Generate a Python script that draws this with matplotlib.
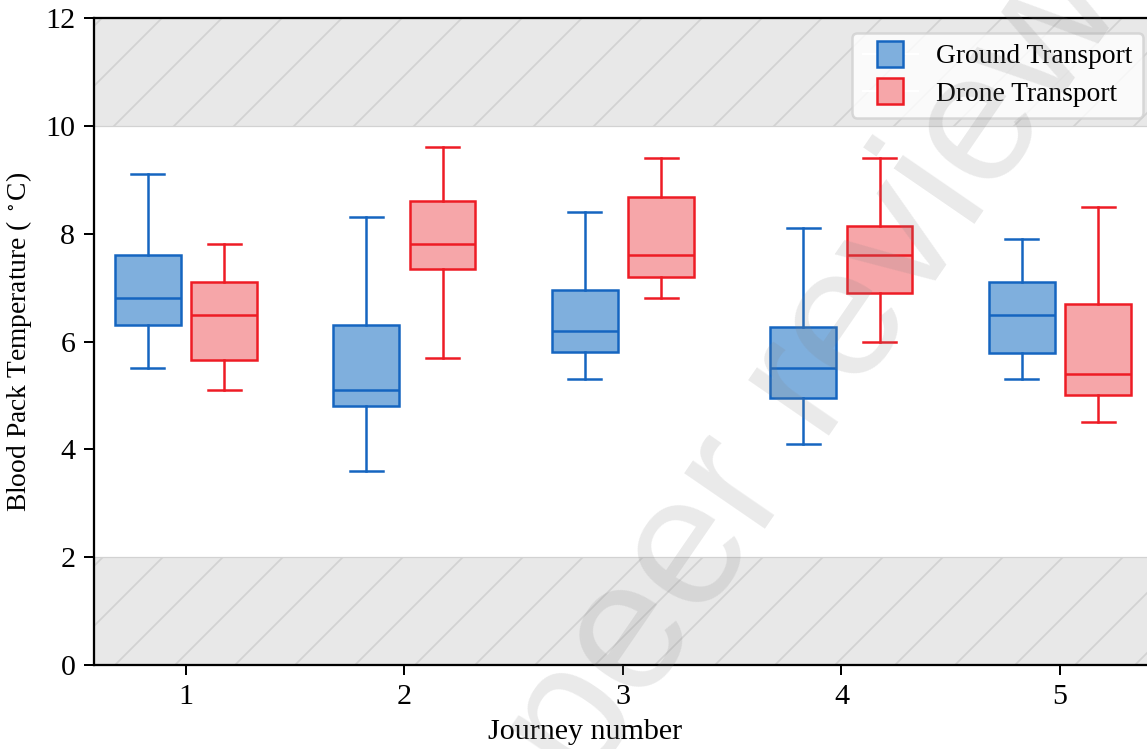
import matplotlib
matplotlib.use('Agg')
import matplotlib.pyplot as plt
from matplotlib.lines import Line2D

journeys = [1, 2, 3, 4, 5]

ground_whislo = [5.5, 3.6, 5.3, 4.1, 5.3]
ground_q1 = [6.3, 4.8, 5.8, 4.95, 5.78]
ground_med = [6.8, 5.1, 6.2, 5.5, 6.5]
ground_q3 = [7.6, 6.3, 6.95, 6.27, 7.1]
ground_whishi = [9.1, 8.3, 8.4, 8.1, 7.9]

drone_whislo = [5.1, 5.7, 6.8, 6.0, 4.5]
drone_q1 = [5.65, 7.35, 7.2, 6.9, 5.0]
drone_med = [6.5, 7.8, 7.6, 7.6, 5.4]
drone_q3 = [7.1, 8.6, 8.68, 8.15, 6.7]
drone_whishi = [7.8, 9.6, 9.4, 9.4, 8.5]

plt.rcParams['font.family'] = ['Liberation Serif', 'DejaVu Serif']
plt.rcParams['mathtext.fontset'] = 'stix'
plt.rcParams['hatch.linewidth'] = 0.7
plt.rcParams['font.size'] = 11

fig = plt.figure(figsize=(1147/180, 749/180), dpi=180)
ax = fig.add_axes([94/1147, 84/749, 1056/1147, 647/749])

# safe ranges shaded
for lo, hi in [(10, 12), (0, 2)]:
    ax.axhspan(lo, hi, facecolor='#e8e8e8', edgecolor='#d2d2d2', hatch='/', linewidth=0.5, zorder=0)


def make_stats(lo, q1, med, q3, hi):
    return [dict(whislo=a, q1=b, med=c, q3=d, whishi=e, fliers=[])
            for a, b, c, d, e in zip(lo, q1, med, q3, hi)]


series = [
    (make_stats(ground_whislo, ground_q1, ground_med, ground_q3, ground_whishi), -0.175, '#1565c0', '#7fafdd', 'Ground Transport'),
    (make_stats(drone_whislo, drone_q1, drone_med, drone_q3, drone_whishi), 0.175, '#ee1c25', '#f6a6a9', 'Drone Transport'),
]

handles = []
for stats, off, edge, face, name in series:
    pos = [j + off for j in journeys]
    lw = 1.0
    ax.bxp(stats, positions=pos, widths=0.3, patch_artist=True, showfliers=False,
           boxprops=dict(facecolor=face, edgecolor=edge, linewidth=lw),
           medianprops=dict(color=edge, linewidth=lw),
           whiskerprops=dict(color=edge, linewidth=lw),
           capprops=dict(color=edge, linewidth=lw), manage_ticks=False)
    handles.append(Line2D([], [], color='white', linewidth=0.8, marker='s', markersize=10.5,
                          markerfacecolor=face, markeredgecolor=edge, markeredgewidth=1.0,
                          label=name))

ax.set_xlim(0.579, 5.412)
ax.set_ylim(0, 12)
ax.set_xticks(journeys)
ax.set_xticklabels([str(j) for j in journeys])
ax.set_yticks([0, 2, 4, 6, 8, 10, 12])
ax.set_xlabel('Journey number', fontsize=12)
ax.set_ylabel('Blood Pack Temperature ( $^\\circ$C)', fontsize=11)
ax.xaxis.set_label_coords((585 - 94) / 1056, (665 - 719) / 647)
ax.yaxis.set_label_coords((34 - 94) / 1056, 0.5)
ax.tick_params(direction='out', length=4, width=0.8, labelsize=12)
for s in ax.spines.values():
    s.set_linewidth(0.9)

leg = ax.legend(handles=handles, loc='upper right', fontsize=11,
                handlelength=2.0, handletextpad=0.65,
                borderpad=0.4, labelspacing=0.45, framealpha=0.8,
                borderaxespad=0, bbox_to_anchor=(0.9934, 0.977))
leg.get_frame().set_edgecolor('#d0d0d0')

# watermark
fig.text(815/1147, 1 - 372/749, 'peer review', fontsize=74, family='Liberation Sans',
         color='gray', alpha=0.17, rotation=55.5, ha='center', va='center')

fig.savefig('out.png', dpi=180)
